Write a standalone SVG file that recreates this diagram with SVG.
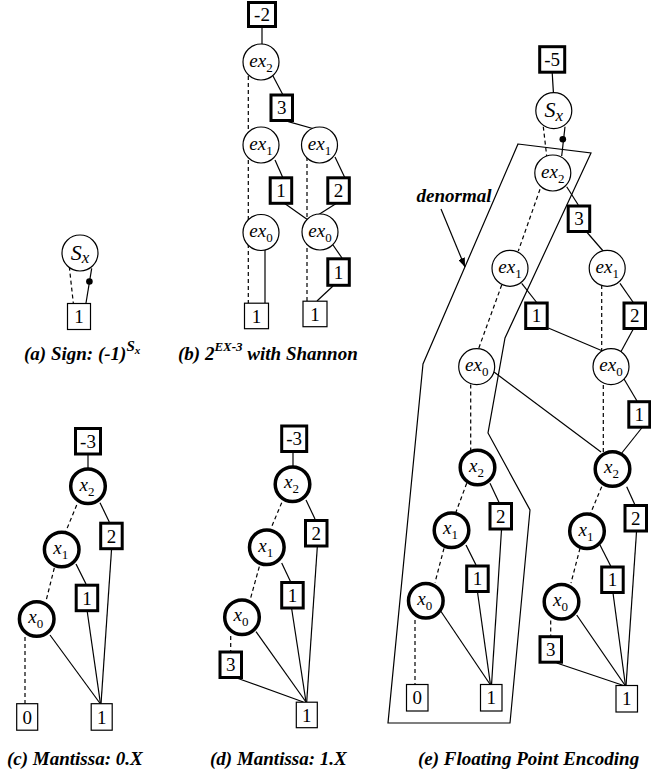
<svg xmlns="http://www.w3.org/2000/svg" width="651" height="776" viewBox="0 0 651 776">
<style>
.c{fill:#fff;stroke:#000;stroke-width:1.2}
.ct{fill:#fff;stroke:#000;stroke-width:3.5}
.t{fill:#fff;stroke:#000;stroke-width:1.2}
.w{fill:#fff;stroke:#000;stroke-width:3}
.e{fill:none;stroke:#000;stroke-width:1.2}
.d{fill:none;stroke:#000;stroke-width:1.2;stroke-dasharray:4 3}
.n{font-family:"Liberation Serif","Times New Roman",serif;font-size:19px;text-anchor:middle}
.v{font-family:"Liberation Serif","Times New Roman",serif;font-size:19px;font-style:italic;text-anchor:middle}
.vs{font-style:normal;font-size:13px}
.sv{font-family:"Liberation Serif","Times New Roman",serif;font-size:22px;font-style:italic;text-anchor:middle}
.cap{font-family:"Liberation Serif","Times New Roman",serif;font-size:19px;font-style:italic;font-weight:bold}
</style>
<defs>
<marker id="ah" markerWidth="9" markerHeight="7" refX="9" refY="3.5" orient="auto" markerUnits="userSpaceOnUse"><path d="M0,0 L9,3.5 L0,7 z" fill="#000"/></marker>
</defs>

<g id="connectors">
<!-- (a) -->
<line class="d" x1="69.3" y1="266.7" x2="73.3" y2="303"/>
<line class="e" x1="91.7" y1="268.3" x2="86" y2="303"/>
<circle cx="89.4" cy="281.5" r="3.3" fill="#000"/>
<!-- (b) -->
<line class="e" x1="262" y1="27" x2="262" y2="46"/>
<line class="d" x1="248.3" y1="76" x2="248.3" y2="303"/>
<line class="e" x1="273" y1="76" x2="283" y2="95"/>
<line class="e" x1="288.3" y1="121.7" x2="318" y2="130"/>
<line class="e" x1="275" y1="160" x2="283" y2="178"/>
<line class="e" x1="335" y1="157" x2="345" y2="178"/>
<line class="d" x1="307" y1="157" x2="307" y2="301"/>
<line class="e" x1="284" y1="203" x2="308" y2="220"/>
<line class="e" x1="337" y1="203" x2="318" y2="215"/>
<line class="e" x1="333" y1="245" x2="342" y2="258"/>
<line class="e" x1="333" y1="286" x2="317" y2="301"/>
<line class="e" x1="265" y1="249" x2="265" y2="303"/>
<!-- (c) -->
<line class="e" x1="88" y1="455" x2="88" y2="470"/>
<line class="d" x1="76.7" y1="505" x2="65.7" y2="531.7"/>
<line class="e" x1="100" y1="502.7" x2="109.3" y2="522"/>
<line class="d" x1="54.3" y1="568" x2="46" y2="601"/>
<line class="e" x1="76" y1="564" x2="86" y2="584"/>
<line class="e" x1="111.5" y1="550" x2="101" y2="704"/>
<line class="e" x1="87.3" y1="612" x2="100.5" y2="704"/>
<line class="e" x1="50" y1="635" x2="100.5" y2="704"/>
<line class="d" x1="25" y1="637" x2="25" y2="704"/>
<!-- (d) -->
<line class="e" x1="293" y1="453" x2="293" y2="467"/>
<line class="d" x1="281.7" y1="502.7" x2="271" y2="528.3"/>
<line class="e" x1="306" y1="500" x2="315" y2="519"/>
<line class="d" x1="259.3" y1="566.7" x2="250.5" y2="598.5"/>
<line class="e" x1="281.7" y1="563" x2="290.7" y2="582"/>
<line class="e" x1="317.3" y1="547" x2="306.7" y2="702"/>
<line class="e" x1="291.7" y1="609" x2="306" y2="702"/>
<line class="e" x1="256" y1="631.7" x2="306" y2="702"/>
<line class="d" x1="230.7" y1="636" x2="230.7" y2="651"/>
<line class="e" x1="236.7" y1="678" x2="303.3" y2="702"/>
<!-- (e) upper -->
<line class="e" x1="552.2" y1="73" x2="553.5" y2="94"/>
<line class="d" x1="543.3" y1="126.7" x2="546.7" y2="156"/>
<line class="e" x1="565" y1="126.7" x2="561.7" y2="156"/>
<circle cx="562.8" cy="139.3" r="3.3" fill="#000"/>
<line class="e" x1="566.7" y1="186.7" x2="578.3" y2="205"/>
<line class="d" x1="540" y1="189.3" x2="518.3" y2="251"/>
<line class="e" x1="586.7" y1="232" x2="604" y2="252"/>
<line class="e" x1="521.7" y1="283.3" x2="536.7" y2="302.5"/>
<line class="e" x1="620" y1="283.3" x2="633.3" y2="302.5"/>
<line class="d" x1="501.7" y1="285" x2="478.3" y2="349.5"/>
<line class="e" x1="548.3" y1="328" x2="605" y2="352"/>
<line class="d" x1="601.7" y1="285" x2="601.7" y2="350"/>
<line class="e" x1="633.3" y1="329" x2="620.5" y2="352.5"/>
<line class="e" x1="624" y1="379" x2="637" y2="401"/>
<line class="e" x1="494" y1="372" x2="601" y2="452"/>
<line class="e" x1="641.7" y1="428" x2="621" y2="454"/>
<line class="d" x1="470.7" y1="384.5" x2="470.7" y2="450"/>
<line class="d" x1="603.3" y1="385" x2="603.3" y2="452"/>
<!-- (e) lower left -->
<line class="d" x1="466.7" y1="483.3" x2="456" y2="512"/>
<line class="e" x1="490" y1="483.3" x2="499.3" y2="503"/>
<line class="d" x1="444" y1="548.3" x2="435" y2="582.5"/>
<line class="e" x1="466" y1="545" x2="476" y2="565"/>
<line class="e" x1="501.5" y1="530" x2="491.5" y2="685"/>
<line class="e" x1="477.5" y1="592" x2="490.5" y2="685"/>
<line class="e" x1="440" y1="610" x2="490.5" y2="685"/>
<line class="d" x1="415" y1="620" x2="415" y2="685"/>
<!-- (e) lower right -->
<line class="d" x1="601.7" y1="486.7" x2="590.7" y2="513"/>
<line class="e" x1="626.7" y1="486.7" x2="635" y2="505"/>
<line class="d" x1="580" y1="548.3" x2="571" y2="583"/>
<line class="e" x1="600" y1="545" x2="610.7" y2="566"/>
<line class="e" x1="636.5" y1="532" x2="626" y2="686"/>
<line class="e" x1="613" y1="593" x2="625.5" y2="686"/>
<line class="e" x1="576.7" y1="615" x2="625.5" y2="686"/>
<line class="d" x1="550.7" y1="620.5" x2="550.7" y2="636"/>
<line class="e" x1="556.7" y1="663" x2="625" y2="686"/>
<!-- denormal region and arrow -->
<polygon class="e" points="518,144 591,153 505,338 488,433 530,510 510,723 388,723 423,364"/>
<line class="e" x1="441" y1="209" x2="465" y2="267" marker-end="url(#ah)"/>
</g>

<!-- (a) -->
<g id="a_s"><circle class="c" cx="80" cy="253" r="18"/><text class="sv" x="80" y="259.5">S<tspan font-size="17" dy="3.5">x</tspan></text></g>
<g id="a_t1"><rect class="t" x="67.5" y="303.5" width="23" height="26"/><text class="n" x="79" y="323">1</text></g>

<!-- (b) -->
<g id="b_w2"><rect class="w" x="248.5" y="2.5" width="27" height="24"/><text class="n" x="262" y="21">-2</text></g>
<g id="b_ex2"><circle class="c" cx="261" cy="62" r="18"/><text class="v" x="261" y="66.7">ex<tspan class="vs" dy="5">2</tspan></text></g>
<g id="b_w3"><rect class="w" x="271" y="95" width="21.5" height="25.5"/><text class="n" x="281.7" y="114">3</text></g>
<g id="b_ex1a"><circle class="c" cx="261" cy="145" r="18"/><text class="v" x="261" y="149.7">ex<tspan class="vs" dy="5">1</tspan></text></g>
<g id="b_ex1b"><circle class="c" cx="319.5" cy="145" r="18"/><text class="v" x="319.5" y="149.7">ex<tspan class="vs" dy="5">1</tspan></text></g>
<g id="b_w1a"><rect class="w" x="270.2" y="177.8" width="21.5" height="25.5"/><text class="n" x="281" y="197">1</text></g>
<g id="b_w2b"><rect class="w" x="327.8" y="177.8" width="21.5" height="25.5"/><text class="n" x="338.5" y="197">2</text></g>
<g id="b_ex0a"><circle class="c" cx="261" cy="232.5" r="18"/><text class="v" x="261" y="237.2">ex<tspan class="vs" dy="5">0</tspan></text></g>
<g id="b_ex0b"><circle class="c" cx="320" cy="232" r="18"/><text class="v" x="320" y="236.7">ex<tspan class="vs" dy="5">0</tspan></text></g>
<g id="b_w1b"><rect class="w" x="327.8" y="258.8" width="21.5" height="26.5"/><text class="n" x="338.5" y="278.5">1</text></g>
<g id="b_t1a"><rect class="t" x="244.5" y="303.2" width="24" height="25.5"/><text class="n" x="256.5" y="322.5">1</text></g>
<g id="b_t1b"><rect class="t" x="303" y="301.2" width="24" height="25.5"/><text class="n" x="315" y="320.5">1</text></g>

<!-- (c) -->
<g id="c_w3"><rect class="w" x="75.5" y="428.5" width="25" height="25.5"/><text class="n" x="88" y="447.7">-3</text></g>
<g id="c_x2"><circle class="ct" cx="88" cy="486.3" r="17.3"/><text class="v" x="87" y="490.5">x<tspan class="vs" dy="5">2</tspan></text></g>
<g id="c_w2"><rect class="w" x="100.7" y="523.2" width="21.5" height="25.5"/><text class="n" x="111.5" y="542.5">2</text></g>
<g id="c_x1"><circle class="ct" cx="61.7" cy="549.5" r="17.3"/><text class="v" x="60.7" y="553.7">x<tspan class="vs" dy="5">1</tspan></text></g>
<g id="c_w1"><rect class="w" x="76.2" y="585.2" width="21.5" height="25.5"/><text class="n" x="87" y="604.5">1</text></g>
<g id="c_x0"><circle class="ct" cx="36.7" cy="619" r="17.3"/><text class="v" x="35.7" y="623.2">x<tspan class="vs" dy="5">0</tspan></text></g>
<g id="c_t0"><rect class="t" x="16.7" y="703.7" width="21" height="26.5"/><text class="n" x="27.2" y="723.5">0</text></g>
<g id="c_t1"><rect class="t" x="91.2" y="703.7" width="21" height="26.5"/><text class="n" x="101.7" y="723.5">1</text></g>

<!-- (d) -->
<g id="d_w3"><rect class="w" x="281.7" y="426" width="25" height="25.5"/><text class="n" x="294.2" y="445.3">-3</text></g>
<g id="d_x2"><circle class="ct" cx="292.5" cy="484.2" r="17.3"/><text class="v" x="291.5" y="488.4">x<tspan class="vs" dy="5">2</tspan></text></g>
<g id="d_w2"><rect class="w" x="305.5" y="520.5" width="21.5" height="25.5"/><text class="n" x="316.3" y="539.8">2</text></g>
<g id="d_x1"><circle class="ct" cx="266.8" cy="547.3" r="17.3"/><text class="v" x="265.8" y="551.5">x<tspan class="vs" dy="5">1</tspan></text></g>
<g id="d_w1"><rect class="w" x="281.7" y="582.5" width="21.5" height="25.5"/><text class="n" x="292.5" y="601.8">1</text></g>
<g id="d_x0"><circle class="ct" cx="242" cy="617.2" r="17.3"/><text class="v" x="241" y="621.4">x<tspan class="vs" dy="5">0</tspan></text></g>
<g id="d_w3b"><rect class="w" x="220" y="652" width="21.5" height="25.5"/><text class="n" x="230.8" y="671.2">3</text></g>
<g id="d_t1"><rect class="t" x="296.3" y="702.2" width="21" height="25.5"/><text class="n" x="306.8" y="721.5">1</text></g>

<!-- (e) -->
<g id="e_w5"><rect class="w" x="539.7" y="46.7" width="25" height="25.5"/><text class="n" x="552.2" y="66">-5</text></g>
<g id="e_s"><circle class="c" cx="553.8" cy="110.7" r="18"/><text class="sv" x="553.8" y="117.2">S<tspan font-size="17" dy="3.5">x</tspan></text></g>
<g id="e_ex2"><circle class="c" cx="552.8" cy="173" r="18"/><text class="v" x="552.8" y="177.7">ex<tspan class="vs" dy="5">2</tspan></text></g>
<g id="e_w3"><rect class="w" x="568.2" y="206" width="21.5" height="25.5"/><text class="n" x="579" y="225.2">3</text></g>
<g id="e_ex1a"><circle class="c" cx="510" cy="268.3" r="18"/><text class="v" x="510" y="273">ex<tspan class="vs" dy="5">1</tspan></text></g>
<g id="e_ex1b"><circle class="c" cx="607.2" cy="268.3" r="18"/><text class="v" x="607.2" y="273">ex<tspan class="vs" dy="5">1</tspan></text></g>
<g id="e_w1a"><rect class="w" x="525.7" y="303" width="21.5" height="25.5"/><text class="n" x="536.5" y="322.3">1</text></g>
<g id="e_w2a"><rect class="w" x="624" y="303" width="21.5" height="25.5"/><text class="n" x="634.7" y="322.3">2</text></g>
<g id="e_ex0a"><circle class="c" cx="476.7" cy="366.7" r="18"/><text class="v" x="476.7" y="371.4">ex<tspan class="vs" dy="5">0</tspan></text></g>
<g id="e_ex0b"><circle class="c" cx="611" cy="366.7" r="18"/><text class="v" x="611" y="371.4">ex<tspan class="vs" dy="5">0</tspan></text></g>
<g id="e_w1b"><rect class="w" x="628.8" y="401.7" width="21" height="25.5"/><text class="n" x="639.3" y="421">1</text></g>
<g id="e_x2a"><circle class="ct" cx="477.5" cy="467.5" r="17.3"/><text class="v" x="476.5" y="471.7">x<tspan class="vs" dy="5">2</tspan></text></g>
<g id="e_w2b"><rect class="w" x="490" y="503.5" width="21.5" height="25.5"/><text class="n" x="500.8" y="522.7">2</text></g>
<g id="e_x1a"><circle class="ct" cx="451.5" cy="530.2" r="17.3"/><text class="v" x="450.5" y="534.4">x<tspan class="vs" dy="5">1</tspan></text></g>
<g id="e_w1c"><rect class="w" x="466.7" y="566" width="21.5" height="25.5"/><text class="n" x="477.5" y="585.2">1</text></g>
<g id="e_x0a"><circle class="ct" cx="425.8" cy="600.8" r="17.3"/><text class="v" x="424.8" y="605">x<tspan class="vs" dy="5">0</tspan></text></g>
<g id="e_t0"><rect class="t" x="406.5" y="684.5" width="21.5" height="26.5"/><text class="n" x="417.2" y="704.3">0</text></g>
<g id="e_t1a"><rect class="t" x="480.5" y="684.5" width="21.5" height="26.5"/><text class="n" x="491.3" y="704.3">1</text></g>
<g id="e_x2b"><circle class="ct" cx="612.5" cy="469" r="17.3"/><text class="v" x="611.5" y="473.2">x<tspan class="vs" dy="5">2</tspan></text></g>
<g id="e_w2c"><rect class="w" x="625" y="505.5" width="21.5" height="25.5"/><text class="n" x="635.8" y="524.8">2</text></g>
<g id="e_x1b"><circle class="ct" cx="587" cy="531.3" r="17.3"/><text class="v" x="586" y="535.5">x<tspan class="vs" dy="5">1</tspan></text></g>
<g id="e_w1d"><rect class="w" x="601.7" y="567" width="21.5" height="25.5"/><text class="n" x="612.5" y="586.2">1</text></g>
<g id="e_x0b"><circle class="ct" cx="561.5" cy="601.7" r="17.3"/><text class="v" x="560.5" y="605.9">x<tspan class="vs" dy="5">0</tspan></text></g>
<g id="e_w3b"><rect class="w" x="540" y="636.7" width="21.5" height="25.5"/><text class="n" x="550.8" y="656">3</text></g>
<g id="e_t1b"><rect class="t" x="616" y="685.5" width="21.5" height="26.5"/><text class="n" x="626.7" y="705.3">1</text></g>
<text id="e_label" class="cap" x="416.5" y="202" font-size="16">denormal</text>

<!-- captions -->
<g id="captions">
<text class="cap" x="24" y="360">(a) Sign: (-1)<tspan font-size="15" dy="-9">S</tspan><tspan font-size="11" dy="3">x</tspan></text>
<text class="cap" x="178" y="360">(b) 2<tspan font-size="13" dy="-9">EX-3</tspan><tspan dy="9">  with Shannon</tspan></text>
<text class="cap" x="7" y="765">(c) Mantissa: 0.X</text>
<text class="cap" x="210" y="765">(d) Mantissa: 1.X</text>
<text class="cap" x="418" y="765">(e) Floating Point Encoding</text>
</g>
</svg>
